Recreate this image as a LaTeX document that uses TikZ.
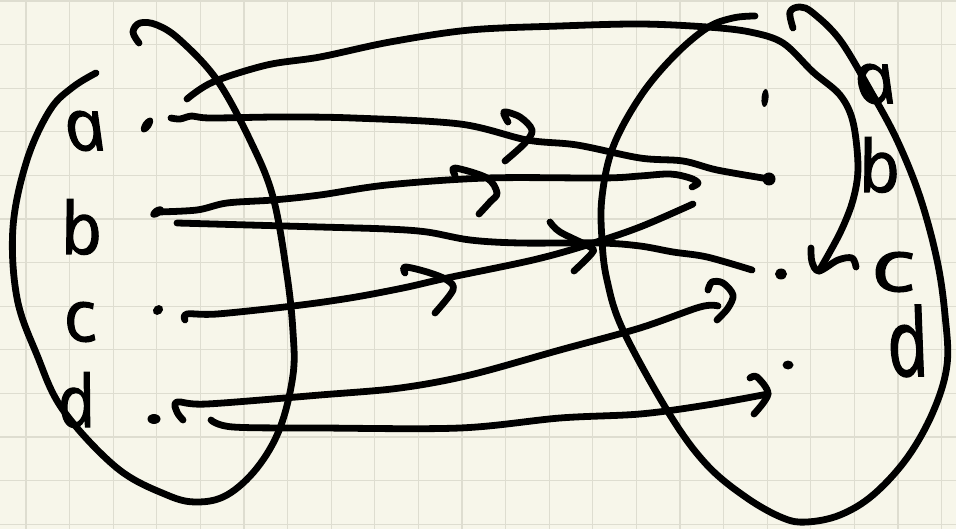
\documentclass[tikz,border=0pt]{standalone}
\usepackage{fontspec}
\setmainfont{Open Sans}[ItalicFeatures={FakeBold=1.6}]
\usetikzlibrary{shapes.geometric}
\definecolor{paper}{HTML}{F7F6EA}
\definecolor{gridcol}{HTML}{DEDDD0}
\begin{document}
\begin{tikzpicture}[x=1pt,y=-1pt,
  ink/.style={line width=6.8pt, line cap=round, line join=round},
  gridline/.style={draw=gridcol, line width=1.3pt},
  pt/.style={ellipse, fill=black, inner sep=0pt, minimum width=11pt, minimum height=9pt},
  letter/.style={inner sep=0pt, transform shape, xslant=-0.2, font=\fontsize{72}{72}\selectfont\itshape}]
\useasboundingbox (0,0) rectangle (956,529);
\fill[paper] (0,0) rectangle (956,529);
\foreach \gx in {0,...,21} \draw[gridline] ({26+43.6*\gx},0) -- ({26+43.6*\gx},529);
\foreach \gy in {0,...,12} \draw[gridline] (0,{1+43.6*\gy}) -- (956,{1+43.6*\gy});

\node[letter, xslant=-0.15] (la) at (85,131) {a};
\node[letter] (lb) at (80,227) {b};
\node[letter] (lc) at (80,322) {c};
\node[letter, xscale=0.9] (ld) at (75,400) {d};
\node[letter, xslant=-0.15] (ra) at (875,84) {a};
\node[letter] (rb) at (878,165) {b};
\node[letter, xscale=1.35] (rc) at (893,272) {c};
\node[letter, yscale=1.3] (rd) at (906,341) {d};

\node[pt, rotate=55, minimum width=17pt] (da) at (147,125) {};
\node[pt, rotate=35, minimum width=15pt] (db) at (157,212) {};
\node[pt, rotate=40] (dc) at (158,310) {};
\node[pt, minimum width=13pt, minimum height=10pt] (dd) at (154,419) {};
\node[pt, rotate=85, minimum width=18pt, minimum height=7pt] (ea) at (765,98) {};
\node[pt, minimum width=13pt, minimum height=13pt] (eb) at (769,179) {};
\node[pt, minimum width=12pt, minimum height=11pt] (ec) at (781,274) {};
\node[pt] (ed) at (788,365) {};

\coordinate (sa) at (187,99);
\coordinate (sb) at (171,118);
\coordinate (sd) at (177,223);
\coordinate (se) at (185,320);
\coordinate (sf) at (183,420);
\coordinate (sg) at (211,420);
\coordinate (tb) at (698,183);
\coordinate (tc) at (752,270);
\coordinate (td) at (693,204);
\coordinate (te) at (718,306);
\coordinate (tf) at (768,394);
\coordinate (tg) at (819,271);

\draw[ink] plot[smooth, tension=0.6] coordinates {(96,73) (73,87) (50,110) (27,160) (13,227) (17,298) (37,355) (63,410) (117,468) (167,495) (197,502) (227,495) (257,468) (280,428) (293,375) (293,332) (287,275) (273,197) (250,140) (217,80) (180,40) (157,25) (140,23) (133,32) (139,43)};
\draw[ink] plot[smooth, tension=0.6] coordinates {(755,16) (733,18) (707,28) (673,57) (640,97) (613,147) (602,197) (602,240) (607,280) (623,330) (670,415) (707,465) (747,498) (783,518) (807,522) (840,515) (873,495) (907,458) (933,412) (947,365) (945,315) (937,260) (920,197) (897,140) (870,90) (840,40) (813,13) (800,7) (790,12) (793,28)};

\draw[ink] plot[smooth, tension=0.55] coordinates {(sa) (213,82) (267,65) (320,57) (390,42) (470,30) (560,26) (640,24) (707,27) (750,32) (783,43) (813,72) (840,95) (853,122) (858,167) (853,200) (840,233) (tg)};
\draw[ink] plot[smooth, tension=0.55] coordinates {(sb) (180,119) (192,116) (210,118) (280,117) (353,118) (460,124) (527,140) (577,145) (640,158) (683,161) (717,170) (eb)};
\draw[ink] plot[smooth, tension=0.55] coordinates {(db) (197,210) (227,203) (273,200) (320,195) (387,185) (487,178) (603,178) (640,176) (670,174) (690,178) (tb) (692,187)};
\draw[ink] plot[smooth, tension=0.55] coordinates {(sd) (320,227) (387,229) (427,232) (470,240) (520,243) (600,243) (640,246) (673,252) (707,257) (tc)};
\draw[ink] plot[smooth, tension=0.55] coordinates {(se) (187,314) (217,314) (293,306) (350,298) (403,288) (447,278) (533,260) (587,245) (640,227) (td)};
\draw[ink] plot[smooth, tension=0.55] coordinates {(sf) (177,412) (177,402) (207,404) (320,395) (400,388) (470,375) (560,350) (640,328) (700,307) (te)};
\draw[ink] plot[smooth, tension=0.55] coordinates {(sg) (233,427) (320,428) (460,428) (560,418) (640,414) (707,405) (tf)};

\draw[ink] plot[smooth, tension=0.55] coordinates {(508,122) (504,112) (520,117) (532,130) (525,143) (505,161)};
\draw[ink] plot[smooth, tension=0.55] coordinates {(455,175) (455,168) (487,178) (497,193) (490,202) (479,214)};
\draw[ink] plot[smooth, tension=0.55] coordinates {(405,273) (405,267) (427,272) (447,280) (453,290) (435,313)};
\draw[ink] plot[smooth, tension=0.55] coordinates {(550,222) (560,232) (590,247) (592,253) (574,271)};
\draw[ink] plot[smooth, tension=0.55] coordinates {(708,290) (712,282) (723,283) (733,295) (728,308) (717,320)};
\draw[ink] plot[smooth, tension=0.55] coordinates {(750,378) (757,377) (tf) (754,414)};
\draw[ink] plot[smooth, tension=0.55] coordinates {(811,248) (812,262) (tg) (838,260) (852,258) (856,267)};
\end{tikzpicture}
\end{document}
